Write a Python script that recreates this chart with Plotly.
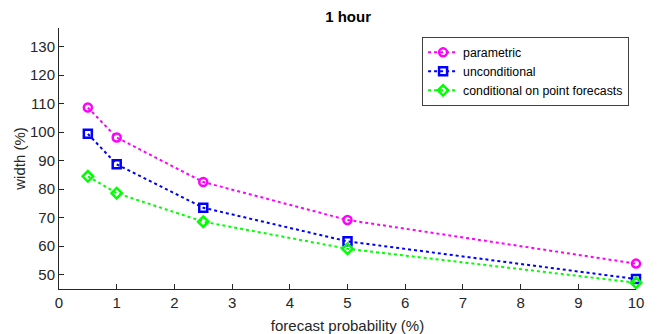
import plotly.graph_objects as go

x_vals = [0.5, 1, 2.5, 5, 10]
parametric = [108.6, 98.1, 82.5, 69.2, 53.9]
unconditional = [99.4, 88.7, 73.5, 61.7, 48.5]
conditional = [84.5, 78.6, 68.6, 59.1, 47.2]
x_ticks = list(range(0, 11))
y_ticks = list(range(50, 131, 10))

series = [
    ("parametric", parametric, "#FF00FF", "circle-open"),
    ("unconditional", unconditional, "#0000FF", "square-open"),
    ("conditional on point forecasts", conditional, "#00FF00", "diamond-open"),
]

fig = go.Figure()
for name, vals, col, sym in series:
    fig.add_trace(go.Scatter(
        x=x_vals, y=vals, name=name, mode="lines+markers",
        line=dict(color=col, width=2, dash="dot"),
        marker=dict(symbol=sym, size=8, color=col, line=dict(color=col, width=2.5)),
        cliponaxis=False,
    ))

font_family = "Liberation Sans, Arial, sans-serif"
fig.update_layout(
    width=658, height=334,
    margin=dict(l=59, r=22, t=28, b=45),
    paper_bgcolor="white", plot_bgcolor="white",
    font=dict(family=font_family, size=15, color="#262626"),
    title=dict(text="<b>1 hour</b>", x=0.529, xanchor="center", y=0.95, yanchor="middle",
               font=dict(size=15, color="#000000")),
    showlegend=True,
    legend=dict(x=0.988, y=0.966, xanchor="right", yanchor="top",
                bgcolor="white", bordercolor="#404040", borderwidth=1,
                font=dict(size=12.3, color="#000000"), tracegroupgap=0,
                itemwidth=30),
)
fig.update_xaxes(
    range=[0, 10], tickvals=x_ticks, ticks="inside", ticklen=5, tickcolor="#262626",
    showline=True, linecolor="#262626", linewidth=1, showgrid=False, zeroline=False,
    automargin=False,
    title=dict(text="forecast probability (%)", font=dict(size=15)),
)
fig.update_yaxes(
    range=[45, 136.5], tickvals=y_ticks, ticks="inside", ticklen=5, tickcolor="#262626",
    showline=True, linecolor="#262626", linewidth=1, showgrid=False, zeroline=False,
    automargin=True,
    title=dict(text="width (%)", standoff=0, font=dict(size=15)),
)
fig.write_html("out.html")
